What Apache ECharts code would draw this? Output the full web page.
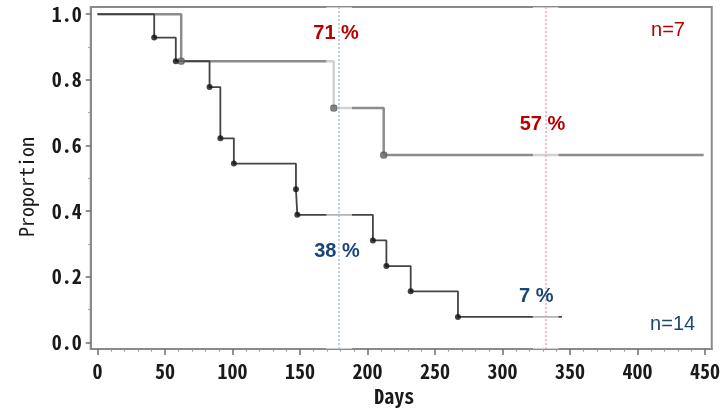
<!DOCTYPE html>
<html>
<head>
<meta charset="utf-8">
<script src="https://cdn.jsdelivr.net/npm/echarts@6/dist/echarts.min.js"></script>
<style>
  html, body { margin: 0; padding: 0; background: #fff; }
  #chart { width: 728px; height: 411px; }
</style>
</head>
<body>
<div id="chart"></div>
<script>
// Kaplan–Meier step curves: time of each step (days) and the proportion after it.
// The first point is the start of follow-up, the last one the end of follow-up.
const daysA = [0, 62, 175, 212, 449];
const survA = [1.0, 0.857, 0.714, 0.571, 0.571];
const daysB = [0, 42, 58, 83, 91, 101, 147, 148, 204, 214, 232, 267, 344];
const survB = [1.0, 0.929, 0.857, 0.778, 0.622, 0.545, 0.467, 0.389, 0.311, 0.233, 0.156, 0.078, 0.078];
const sizeA = 7;
const sizeB = 14;
// Time points where the proportions are quoted
const milestoneDays = [179, 332];
// Axis ticks
const xTicks = [0, 50, 100, 150, 200, 250, 300, 350, 400, 450];
const yTicks = [0, 0.2, 0.4, 0.6, 0.8, 1.0];

const RED = '#B80000';
const BLUE = '#1A4676';
const AXIS_GRAY = '#8a8a8a';
const AXIS_FONT = '"Noto Sans Mono CJK JP", "Noto Sans CJK JP", sans-serif';
const NOTE_FONT = '"Liberation Sans", Arial, sans-serif';

const xMinor = [];
for (let d = 0; d <= 450; d += 10) if (d % 50 !== 0) xMinor.push(d);
const yMinor = [0.1, 0.3, 0.5, 0.7, 0.9];

function valueAt(days, surv, day) {
  let v = surv[0];
  for (let i = 0; i < days.length; i++) if (days[i] <= day) v = surv[i];
  return v;
}
function pct(v) { return Math.floor(v * 100 + 1e-9) + ' %'; }

// Step line through every point; markers only on the drops
function stepLine(days, surv) {
  return days.map((d, i) => [d, surv[i]]);
}
function dropMarks(days, surv) {
  return days.slice(1, -1).map((d, i) => [d, surv[i + 1]]);
}

// Annotation anchors (data coordinates of each text centre)
const notes = [
  { at: [176.7, 0.94],  text: pct(valueAt(daysA, survA, milestoneDays[0])), color: RED,  weight: 'bold' },
  { at: [329.6, 0.665], text: pct(valueAt(daysA, survA, milestoneDays[1])), color: RED,  weight: 'bold' },
  { at: [422.6, 0.949], text: 'n=' + sizeA, color: RED, weight: 'normal' },
  { at: [177.4, 0.278], text: pct(valueAt(daysB, survB, milestoneDays[0])), color: BLUE, weight: 'bold' },
  { at: [325.0, 0.140], text: pct(valueAt(daysB, survB, milestoneDays[1])), color: BLUE, weight: 'bold' },
  { at: [426.0, 0.055], text: 'n=' + sizeB, color: BLUE, weight: 'normal' }
];

const chart = echarts.init(document.getElementById('chart'), null, { renderer: 'canvas' });

const xRange = { min: -5, max: 455 };
const yRange = { min: -0.02, max: 1.022 };
const axisText = { fontFamily: AXIS_FONT, fontSize: 20, fontWeight: 'bold', color: '#1a1a1a' };

chart.setOption({
  animation: false,
  backgroundColor: '#fff',
  grid: {
    left: 90.75, right: 16.25, top: 7, bottom: 56,
    show: true, borderColor: AXIS_GRAY, borderWidth: 2
  },
  xAxis: [
    {
      type: 'value', ...xRange,
      axisLine: { onZero: false, lineStyle: { color: AXIS_GRAY, width: 2 } },
      axisTick: { customValues: xTicks, length: 6, lineStyle: { color: '#6e6e6e', width: 1.5 } },
      axisLabel: { customValues: xTicks, margin: 12, ...axisText },
      splitLine: { show: false },
      name: 'Days', nameLocation: 'middle', nameGap: 26,
      nameTextStyle: { ...axisText, padding: [0, 14, 0, 0] }
    },
    {
      type: 'value', ...xRange, position: 'bottom',
      axisLine: { show: false, onZero: false },
      axisTick: { customValues: xMinor, length: 2.5, lineStyle: { color: '#9a9a9a', width: 1.2 } },
      axisLabel: { show: false },
      splitLine: { show: false }
    }
  ],
  yAxis: [
    {
      type: 'value', ...yRange,
      axisLine: { show: true, onZero: false, lineStyle: { color: AXIS_GRAY, width: 2 } },
      axisTick: { show: true, customValues: yTicks, length: 5, lineStyle: { color: '#6e6e6e', width: 1.5 } },
      axisLabel: { customValues: yTicks, margin: 9, ...axisText, formatter: v => v.toFixed(1) },
      splitLine: { show: false },
      name: 'Proportion', nameLocation: 'middle', nameRotate: 90, nameGap: 54,
      nameTextStyle: { ...axisText, fontWeight: 'normal', padding: [0, 18, 0, 0] }
    },
    {
      type: 'value', ...yRange, position: 'left',
      axisLine: { show: false, onZero: false },
      axisTick: { show: true, customValues: yMinor, length: 2.5, lineStyle: { color: '#9a9a9a', width: 1.2 } },
      axisLabel: { show: false },
      splitLine: { show: false }
    }
  ],
  series: [
    {
      name: 'n=' + sizeA, type: 'line', step: 'end', z: 2,
      data: stepLine(daysA, survA), showSymbol: false,
      lineStyle: { color: '#8c8c8c', width: 2.5 },
      markArea: {
        silent: true, z: 3,
        itemStyle: { color: 'rgba(255,255,255,0.6)' },
        data: milestoneDays.map(d => [{ xAxis: d - 9.5 }, { xAxis: d + 9.5 }])
      }
    },
    {
      name: 'n=' + sizeB, type: 'line', step: 'end', z: 2,
      data: stepLine(daysB, survB), showSymbol: false,
      lineStyle: { color: '#444', width: 1.8 },
      markLine: {
        silent: true, z: 4,
        symbol: ['none', 'none'],
        label: { show: false },
        lineStyle: { type: [2, 2], width: 1.5 },
        data: [
          { xAxis: milestoneDays[0], lineStyle: { color: '#a9bcd6' } },
          { xAxis: milestoneDays[1], lineStyle: { color: '#f2a0a8' } }
        ]
      }
    },
    {
      name: 'drops ' + sizeA, type: 'scatter', z: 5,
      data: dropMarks(daysA, survA),
      symbol: 'roundRect', symbolSize: 6,
      itemStyle: { color: '#6a6a6a', borderColor: '#555', borderWidth: 1 }
    },
    {
      name: 'drops ' + sizeB, type: 'scatter', z: 5,
      data: dropMarks(daysB, survB),
      symbol: 'circle', symbolSize: 6,
      itemStyle: { color: '#111' }
    },
    {
      name: 'notes', type: 'scatter', z: 6,
      symbolSize: 1, itemStyle: { color: 'rgba(0,0,0,0)' },
      data: notes.map(n => ({
        value: n.at,
        label: {
          show: true, position: 'inside', formatter: n.text, opacity: 1,
          color: n.color, fontWeight: n.weight, fontSize: 20, fontFamily: NOTE_FONT
        }
      }))
    }
  ]
});
</script>
</body>
</html>
